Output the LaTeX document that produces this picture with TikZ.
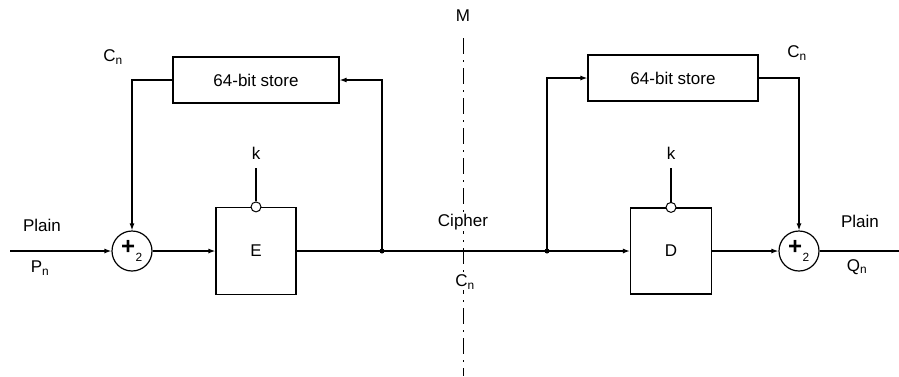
\documentclass[tikz,border=0pt]{standalone}
\usepackage{fontspec}
\setmainfont{Liberation Sans}
\usetikzlibrary{arrows.meta}
\newcommand{\xorsym}{{\fontsize{24}{24}\selectfont\textbf{+}}\kern0.5pt\raisebox{-5pt}{\textsubscript{2}}}
\begin{document}
\begin{tikzpicture}[x=1pt,y=-1pt,
  line width=1.2pt,
  every node/.style={font=\fontsize{17}{19}\selectfont},
  box/.style={draw,rectangle,inner sep=0pt},
  xor/.style={draw,circle,minimum size=40pt,inner sep=0pt},
  knob/.style={draw,circle,fill=white,minimum size=10pt,inner sep=0pt,line width=1pt},
  arr/.style={-{Latex[length=7pt,width=5pt]}},
  dot/.style={circle,fill,minimum size=5pt,inner sep=0pt},
  lbl/.style={inner sep=1pt}
]
\useasboundingbox (0,0) rectangle (899,376);
% dashed separation line
\coordinate (mtop) at (463,38);
\coordinate (mbot) at (463,376);
\draw[line width=1pt,dash pattern=on 16pt off 6pt on 2pt off 6pt] (mtop) -- (mbot);
\node[lbl] (M) at (463,16) {M};
\node[lbl,fill=white] (cipher) at (463,222) {Cipher};
\node[lbl,fill=white] (cnm) at (465,282) {C\textsubscript{n}};

% left side
\coordinate (inL) at (10,251);
\node[xor] (xorL) at (132,251) {\xorsym};
\node[box,minimum width=80pt,minimum height=87pt] (E) at (256,251) {E};
\node[box,minimum width=166pt,minimum height=46pt] (storeL) at (256,80) {64-bit store};
\node[dot] (jL) at (382,251) {};
\node[knob] (kE) at (E.north) {};
\coordinate (kEtop) at (256,168);
\node[lbl] (kEl) at (256,153) {k};
\node[lbl] (plainL) at (42,225) {Plain};
\node[lbl] (PnL) at (40,268) {P\textsubscript{n}};
\node[lbl] (CnL) at (113,57) {C\textsubscript{n}};

% right side
\node[dot] (jR) at (547,251) {};
\node[box,minimum width=81pt,minimum height=86pt] (D) at (671,251) {D};
\node[box,minimum width=170pt,minimum height=46pt] (storeR) at (673,78) {64-bit store};
\node[xor] (xorR) at (799,251) {\xorsym};
\coordinate (out) at (899,251);
\node[knob] (kD) at (D.north) {};
\coordinate (kDtop) at (671,168);
\node[lbl] (kDl) at (671,153) {k};
\node[lbl] (plainR) at (860,221) {Plain};
\node[lbl] (QnR) at (857,267) {Q\textsubscript{n}};
\node[lbl] (CnR) at (797,53) {C\textsubscript{n}};

% connectors
\draw[arr] (inL) -- (xorL.west);
\draw[arr] (xorL.east) -- (E.west);
\draw (E.east) -- (jL.center) -- (jR.center);
\draw[arr] (jR.center) -- (D.west);
\draw[arr] (D.east) -- (xorR.west);
\draw (xorR.east) -- (out);
\draw[arr] (storeL.west) -| (xorL.north);
\draw[arr] (jL.center) |- (storeL.east);
\draw[arr] (jR.center) |- (storeR.west);
\draw[arr] (storeR.east) -| (xorR.north);
\draw (kEtop) -- (kE.north);
\draw (kDtop) -- (kD.north);
\end{tikzpicture}
\end{document}
